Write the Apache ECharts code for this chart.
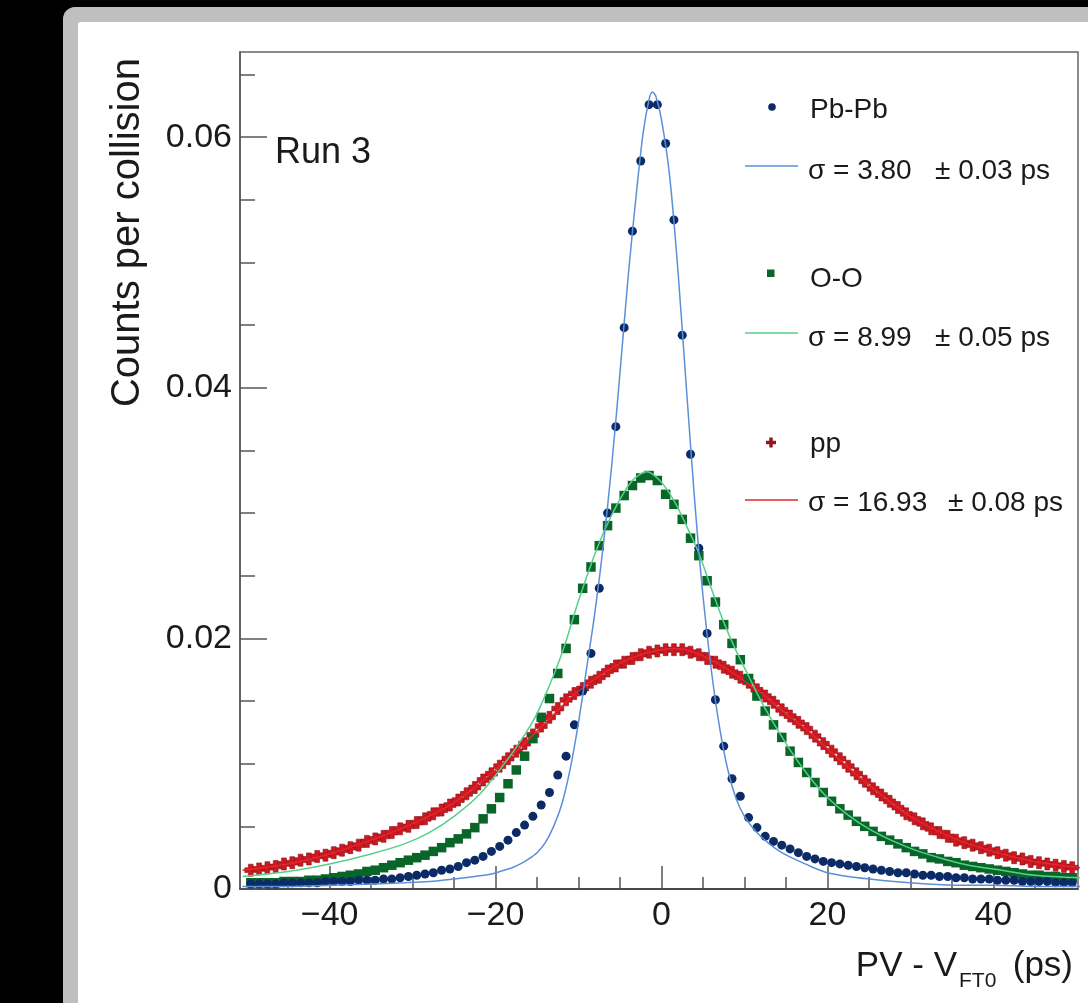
<!DOCTYPE html>
<html><head><meta charset="utf-8">
<script src="https://cdn.jsdelivr.net/npm/echarts@6/dist/echarts.min.js"></script>
<style>
html,body{margin:0;padding:0;background:#000;width:1088px;height:1003px;overflow:hidden;}
#frame{position:absolute;left:63px;top:7px;width:1200px;height:1200px;background:#bfbfbf;border-radius:12px;}
#panel{position:absolute;left:78px;top:22px;width:1200px;height:1200px;background:#fff;border-radius:3px;}
#chart{position:absolute;left:0;top:0;width:1088px;height:1003px;}
</style></head><body>
<div id="frame"></div><div id="panel"></div><div id="chart"></div>
<script>
// ---- data ----
const binCenters = [-49.5,-48.5,-47.5,-46.5,-45.5,-44.5,-43.5,-42.5,-41.5,-40.5,
 -39.5,-38.5,-37.5,-36.5,-35.5,-34.5,-33.5,-32.5,-31.5,-30.5,
 -29.5,-28.5,-27.5,-26.5,-25.5,-24.5,-23.5,-22.5,-21.5,-20.5,
 -19.5,-18.5,-17.5,-16.5,-15.5,-14.5,-13.5,-12.5,-11.5,-10.5,
 -9.5,-8.5,-7.5,-6.5,-5.5,-4.5,-3.5,-2.5,-1.5,-0.5,
 0.5,1.5,2.5,3.5,4.5,5.5,6.5,7.5,8.5,9.5,
 10.5,11.5,12.5,13.5,14.5,15.5,16.5,17.5,18.5,19.5,
 20.5,21.5,22.5,23.5,24.5,25.5,26.5,27.5,28.5,29.5,
 30.5,31.5,32.5,33.5,34.5,35.5,36.5,37.5,38.5,39.5,
 40.5,41.5,42.5,43.5,44.5,45.5,46.5,47.5,48.5,49.5];

const pbpbCounts = [0.0004,0.0004,0.0004,0.0004,0.0005,0.0005,0.0005,0.0005,0.0005,0.0006,
 0.0006,0.0006,0.0006,0.0007,0.0007,0.0007,0.0008,0.0008,0.0009,0.0010,
 0.0011,0.0012,0.0013,0.0015,0.0016,0.0018,0.0021,0.0023,0.0026,0.0030,
 0.0034,0.0039,0.0045,0.0051,0.0058,0.0067,0.0077,0.0091,0.0106,0.0131,
 0.0158,0.0188,0.0240,0.0300,0.0369,0.0448,0.0525,0.0581,0.0626,0.0626,
 0.0595,0.0534,0.0442,0.0347,0.0272,0.0204,0.0151,0.0114,0.0088,0.0074,
 0.0057,0.0049,0.0042,0.0038,0.0035,0.0032,0.0029,0.0026,0.0024,0.0022,
 0.0021,0.0020,0.0019,0.0018,0.0017,0.0016,0.0015,0.0014,0.0013,0.0013,
 0.0012,0.0011,0.0011,0.0010,0.0010,0.0009,0.0009,0.0008,0.0008,0.0008,
 0.0007,0.0007,0.0007,0.0006,0.0006,0.0006,0.0006,0.0005,0.0005,0.0005];

const ooCounts = [0.0005,0.0005,0.0005,0.0005,0.0006,0.0006,0.0006,0.0007,0.0007,0.0008,
 0.0009,0.0010,0.0011,0.0012,0.0014,0.0015,0.0017,0.0019,0.0021,0.0023,
 0.0025,0.0027,0.0030,0.0033,0.0037,0.0040,0.0044,0.0049,0.0056,0.0064,
 0.0073,0.0084,0.0095,0.0106,0.0120,0.0137,0.0152,0.0172,0.0192,0.0215,
 0.0240,0.0257,0.0274,0.0290,0.0304,0.0314,0.0322,0.0328,0.0330,0.0326,
 0.0315,0.0307,0.0295,0.0280,0.0266,0.0246,0.0229,0.0211,0.0196,0.0183,
 0.0168,0.0154,0.0142,0.0131,0.0121,0.0110,0.0101,0.0093,0.0085,0.0077,
 0.0070,0.0064,0.0059,0.0054,0.0050,0.0046,0.0042,0.0039,0.0036,0.0033,
 0.0030,0.0028,0.0025,0.0024,0.0022,0.0021,0.0019,0.0018,0.0017,0.0016,
 0.0015,0.0014,0.0013,0.0012,0.0011,0.0011,0.0010,0.0010,0.0009,0.0009];

const ppCounts = [0.0015,0.0016,0.0017,0.0018,0.0020,0.0021,0.0023,0.0024,0.0026,0.0027,
 0.0029,0.0031,0.0033,0.0035,0.0038,0.0040,0.0042,0.0045,0.0048,0.0050,
 0.0053,0.0056,0.0060,0.0063,0.0067,0.0071,0.0076,0.0081,0.0087,0.0092,
 0.0098,0.0104,0.0110,0.0116,0.0123,0.0130,0.0137,0.0144,0.0151,0.0156,
 0.0160,0.0165,0.0169,0.0174,0.0178,0.0181,0.0184,0.0187,0.0189,0.0190,
 0.0191,0.0191,0.0191,0.0189,0.0187,0.0184,0.0181,0.0177,0.0173,0.0169,
 0.0165,0.0159,0.0154,0.0149,0.0143,0.0138,0.0133,0.0128,0.0122,0.0116,
 0.0110,0.0104,0.0098,0.0092,0.0086,0.0080,0.0075,0.0070,0.0065,0.0060,
 0.0056,0.0052,0.0048,0.0045,0.0042,0.0039,0.0037,0.0035,0.0033,0.0031,
 0.0029,0.0027,0.0025,0.0024,0.0022,0.0021,0.0020,0.0019,0.0018,0.0017];

// fit curves
const pbpbFitX = [-50.5,-45,-40,-35,-31,-28,-25,-22.5,-20.5,-19,-18,-17,-16,-15,-14,-13,-12,-11,-10,-9,-8,-7,-6,-5,-4,-3,-2.2,-1.5,-1.1,-0.7,0,1,2,3,4,5,6,7,8,9,10,11.5,13,14.5,16,18,20,22.5,25,28,32,36,40,45,50.5];
const pbpbFitY = [0.0002,0.0002,0.0003,0.0004,0.0005,0.0006,0.0008,0.0010,0.0012,0.0015,0.0017,0.0020,0.0024,0.0029,0.0037,0.0050,0.0068,0.0096,0.0133,0.0177,0.0222,0.0275,0.0338,0.0412,0.0490,0.0557,0.0604,0.0630,0.0636,0.0633,0.0614,0.0568,0.0492,0.0400,0.0310,0.0234,0.0175,0.0129,0.0095,0.0072,0.0058,0.0045,0.0036,0.0029,0.0024,0.0018,0.0013,0.0010,0.0008,0.0006,0.0004,0.0003,0.0003,0.0002,0.0002];

const ooFitX = [-50.5,-45,-40,-35,-31,-28,-25,-22,-19.5,-17,-15,-12,-10,-7.7,-5.5,-3.5,-1.8,-0.2,1.5,3,4.5,6,7.5,9,10.5,12,14,16,18,20,22.5,25,28,31,34,37,41,45,50.5];
const ooFitY = [0.0010,0.0014,0.0020,0.0028,0.0036,0.0045,0.0058,0.0075,0.0095,0.0118,0.0140,0.0188,0.0230,0.0273,0.0305,0.0326,0.0333,0.0326,0.0310,0.0290,0.0268,0.0240,0.0213,0.0190,0.0170,0.0150,0.0127,0.0106,0.0088,0.0073,0.0059,0.0048,0.0038,0.0030,0.0024,0.0019,0.0015,0.0011,0.0009];

const ppFitX = [-50.5,-45,-40,-35,-30,-25,-20,-15,-10,-5,-2,0,1.5,3,5,7.5,10,12.5,15,17.5,20,22.5,25,27.5,30,35,40,45,50.5];
const ppFitY = [0.0015,0.0020,0.0028,0.0039,0.0052,0.0069,0.0095,0.0126,0.0158,0.0180,0.0188,0.0191,0.0192,0.0191,0.0186,0.0177,0.0166,0.0154,0.0140,0.0127,0.0112,0.0097,0.0083,0.0070,0.0058,0.0041,0.0030,0.0022,0.0017];

const xMajorTicks = [-40,-20,0,20,40];
const xMinorTicks = [-45,-35,-30,-25,-15,-10,-5,5,10,15,25,30,35,45];
const yMajorTicks = [0,0.02,0.04,0.06];
const yMinorTicks = [0.005,0.01,0.015,0.025,0.03,0.035,0.045,0.05,0.055,0.065];

// ---- styles ----
const FONT = '"Liberation Sans", Arial, Helvetica, sans-serif';
const C = {
  pbPt:'#0c2a66', pbLine:'#5b8fd8',
  ooPt:'#0a6528', ooLine:'#55d08c',
  ppPt:'#cc1820', ppEdge:'#8e1016', ppLine:'#e4262e', ppLeg:'#8c1a1a',
  text:'#1a1a1a'
};
const CROSS = 'path://M3.6,0H8.4V3.6H12V8.4H8.4V12H3.6V8.4H0V3.6H3.6Z';
const pairs = (xs, ys) => xs.map((x,i)=>[x, ys[i]]);

const chart = echarts.init(document.getElementById('chart'), null, {renderer:'canvas'});

function txt(text, x, y, size, align, extra){
  return Object.assign({type:'text', x:x, y:y, z:100, silent:true, style:{
    text:text, fontSize:size, fontFamily:FONT, fill:C.text,
    align:align, textAlign:align, verticalAlign:'middle', textVerticalAlign:'middle'
  }}, extra||{});
}
function legLine(y, color){
  return {type:'line', z:100, silent:true, shape:{x1:745,y1:y,x2:798,y2:y}, style:{stroke:color, lineWidth:1.6}};
}

const tickStyle = {color:'#555', width:1.5};
const fitLine = (name, xs, ys, color) => ({name:name, type:'line', data:pairs(xs, ys), showSymbol:false,
  smooth:0.3, lineStyle:{color:color, width:1.5}, silent:true});

const option = {
  backgroundColor:'transparent',
  animation:false,
  grid:{left:240, top:52, right:10, bottom:114, show:true, borderColor:'#666', borderWidth:1.5, backgroundColor:'transparent'},
  xAxis:[
    {type:'value', min:-50.8, max:50.2, position:'bottom',
     axisLine:{show:true, onZero:false, lineStyle:{color:'#333', width:1.5}},
     axisTick:{show:true, inside:true, length:23, customValues:xMajorTicks, lineStyle:tickStyle},
     axisLabel:{show:true, customValues:xMajorTicks, margin:10, fontSize:34, color:C.text, fontFamily:FONT,
       formatter:v => v<0 ? '\u2212'+Math.abs(v) : String(v)},
     splitLine:{show:false}},
    {type:'value', min:-50.8, max:50.2, position:'bottom',
     axisLine:{show:false, onZero:false},
     axisTick:{show:true, inside:true, length:12, customValues:xMinorTicks, lineStyle:tickStyle},
     axisLabel:{show:false}, splitLine:{show:false}}
  ],
  yAxis:[
    {type:'value', min:0, max:0.0668, position:'left',
     axisLine:{show:true, onZero:false, lineStyle:{color:'#555', width:1.5}},
     axisTick:{show:true, inside:true, length:27, customValues:yMajorTicks, lineStyle:tickStyle},
     axisLabel:{show:true, customValues:yMajorTicks, margin:8, fontSize:34, color:C.text, fontFamily:FONT,
       formatter:v => v===0 ? '0' : v.toFixed(2)},
     splitLine:{show:false}},
    {type:'value', min:0, max:0.0668, position:'left',
     axisLine:{show:false, onZero:false},
     axisTick:{show:true, inside:true, length:15, customValues:yMinorTicks, lineStyle:tickStyle},
     axisLabel:{show:false}, splitLine:{show:false}}
  ],
  series:[
    {name:'pp', type:'scatter', data:pairs(binCenters, ppCounts), symbol:CROSS, symbolSize:12,
     itemStyle:{color:C.ppPt, opacity:1, borderColor:C.ppEdge, borderWidth:0.6}, silent:true},
    fitLine('pp fit', ppFitX, ppFitY, C.ppLine),
    {name:'O-O', type:'scatter', data:pairs(binCenters, ooCounts), symbol:'rect', symbolSize:9.5,
     itemStyle:{color:C.ooPt, opacity:1}, silent:true},
    fitLine('O-O fit', ooFitX, ooFitY, C.ooLine),
    {name:'Pb-Pb', type:'scatter', data:pairs(binCenters, pbpbCounts), symbol:'circle', symbolSize:9,
     itemStyle:{color:C.pbPt, opacity:1}, silent:true},
    fitLine('Pb-Pb fit', pbpbFitX, pbpbFitY, C.pbLine)
  ],
  graphic:[
    txt('Counts per collision', 128, 58, 40, 'right', {rotation:Math.PI/2}),
    txt('Run 3', 275, 153, 36, 'left'),
    txt('PV - V', 957, 966, 35, 'right'),
    txt('FT0', 959, 981, 21, 'left'),
    txt('(ps)', 1073, 966, 35, 'right'),
    // legend
    {type:'circle', z:100, silent:true, shape:{cx:772, cy:107, r:3.8}, style:{fill:C.pbPt}},
    txt('Pb-Pb', 810, 110, 28, 'left'),
    legLine(166, C.pbLine),
    txt('\u03c3 = 3.80', 808, 171, 28, 'left'),
    txt('\u00b1 0.03 ps', 935, 171, 28, 'left'),
    {type:'rect', z:100, silent:true, shape:{x:767, y:269.5, width:7.5, height:7.5}, style:{fill:C.ooPt}},
    txt('O-O', 810, 279, 28, 'left'),
    legLine(333, C.ooLine),
    txt('\u03c3 = 8.99', 808, 338, 28, 'left'),
    txt('\u00b1 0.05 ps', 935, 338, 28, 'left'),
    {type:'polygon', z:100, silent:true, shape:{points:[[769.3,437.5],[772.7,437.5],[772.7,440.8],[776,440.8],[776,444.2],[772.7,444.2],[772.7,447.5],[769.3,447.5],[769.3,444.2],[766,444.2],[766,440.8],[769.3,440.8]]}, style:{fill:C.ppLeg}},
    txt('pp', 810, 444, 28, 'left'),
    legLine(500, C.ppLine),
    txt('\u03c3 = 16.93', 808, 503, 28, 'left'),
    txt('\u00b1 0.08 ps', 948, 503, 28, 'left')
  ]
};
chart.setOption(option);
</script></body></html>
